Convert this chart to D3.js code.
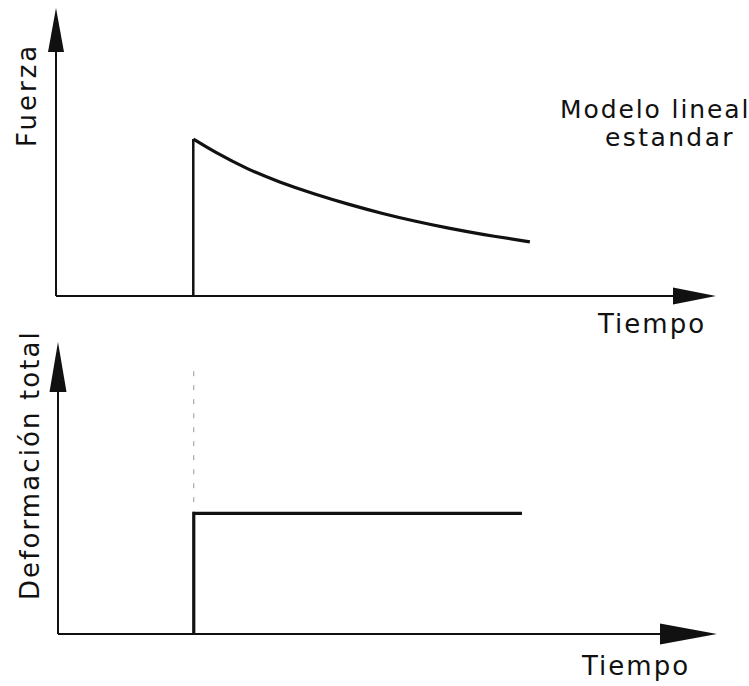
<!DOCTYPE html>
<html>
<head>
<meta charset="utf-8">
<script src="https://cdn.jsdelivr.net/npm/d3@7"></script>
<style>
  body { margin: 0; background: #fff; }
  svg { display: block; }
  text { font-family: "DejaVu Sans", sans-serif; fill: #111; }
</style>
</head>
<body>
<svg width="749" height="686"></svg>
<script>
// force curve (top panel)
const forceTime = [2.08, 2.4, 2.9, 3.4, 3.9, 4.45, 4.95, 5.45, 5.95, 6.45, 7.18];
const forceValue = [54.5, 50.0, 44.0, 39.4, 35.5, 31.7, 28.6, 25.9, 23.5, 21.4, 18.8];

// total deformation (bottom panel): instant jump then constant
const deformTime = [2.06, 7.04];
const deformValue = [41.3, 41.3];
const guideTop = 90; // dashed guide above the jump

const labels = {
  topY: "Fuerza",
  bottomY: "Deformación total",
  x: "Tiempo",
  note: ["Modelo lineal", "estandar"]
};

const svg = d3.select("svg");

// scales
const xTop = d3.scaleLinear().domain([0, 10]).range([56, 716]);
const yTop = d3.scaleLinear().domain([0, 100]).range([296, 8]);
const xBot = d3.scaleLinear().domain([0, 10]).range([58, 717]);
const yBot = d3.scaleLinear().domain([0, 100]).range([634, 342]);

function drawAxes(x, y, arrY, arrX) {
  const g = svg.append("g");
  const [x0, x1] = x.range();
  const [y0, y1] = y.range();
  g.append("line").attr("x1", x0).attr("y1", y0).attr("x2", x0).attr("y2", y1 + 20)
    .attr("stroke", "#111").attr("stroke-width", 2);
  g.append("line").attr("x1", x0).attr("y1", y0).attr("x2", x1 - 20).attr("y2", y0)
    .attr("stroke", "#111").attr("stroke-width", 2);
  // arrow heads
  g.append("path")
    .attr("d", `M${x0},${y1} L${x0 - arrY.w},${y1 + arrY.l} L${x0 + arrY.w},${y1 + arrY.l} Z`)
    .attr("fill", "#111");
  g.append("path")
    .attr("d", `M${x1},${y0} L${x1 - arrX.l},${y0 - arrX.w} L${x1 - arrX.l},${y0 + arrX.w} Z`)
    .attr("fill", "#111");
}

drawAxes(xTop, yTop, {w: 8, l: 44}, {w: 8.5, l: 43});
drawAxes(xBot, yBot, {w: 8.5, l: 50}, {w: 10.5, l: 57});

// top panel: jump + decay
const forcePts = forceTime.map((t, i) => [t, forceValue[i]]);
svg.append("line")
  .attr("x1", xTop(forceTime[0])).attr("y1", yTop(0))
  .attr("x2", xTop(forceTime[0])).attr("y2", yTop(forceValue[0]))
  .attr("stroke", "#111").attr("stroke-width", 2.5);
svg.append("path")
  .datum(forcePts)
  .attr("d", d3.line().x(d => xTop(d[0])).y(d => yTop(d[1])).curve(d3.curveBasis))
  .attr("fill", "none").attr("stroke", "#111").attr("stroke-width", 3.2);

// bottom panel: step
svg.append("line")
  .attr("x1", xBot(deformTime[0])).attr("y1", yBot(guideTop))
  .attr("x2", xBot(deformTime[0])).attr("y2", yBot(deformValue[0]))
  .attr("stroke", "#999").attr("stroke-width", 1).attr("stroke-dasharray", "5,9");
const stepPts = [[deformTime[0], 0]].concat(deformTime.map((t, i) => [t, deformValue[i]]));
svg.append("path")
  .datum(stepPts)
  .attr("d", d3.line().x(d => xBot(d[0])).y(d => yBot(d[1])))
  .attr("fill", "none").attr("stroke", "#111").attr("stroke-width", 3.2);

// labels
svg.append("text")
  .attr("transform", "translate(36,147) rotate(-90)")
  .attr("font-size", 26).attr("letter-spacing", 3)
  .text(labels.topY);
svg.append("text")
  .attr("transform", "translate(39,600) rotate(-90)")
  .attr("font-size", 26).attr("letter-spacing", 2.1)
  .text(labels.bottomY);

svg.append("text").attr("x", 598).attr("y", 333)
  .attr("font-size", 26).attr("letter-spacing", 2).text(labels.x);
svg.append("text").attr("x", 582).attr("y", 675)
  .attr("font-size", 26).attr("letter-spacing", 2).text(labels.x);

svg.append("text").attr("x", 560).attr("y", 118)
  .attr("font-size", 25).attr("letter-spacing", 1.9).text(labels.note[0]);
svg.append("text").attr("x", 605).attr("y", 146)
  .attr("font-size", 25).attr("letter-spacing", 2.4).text(labels.note[1]);
</script>
</body>
</html>
